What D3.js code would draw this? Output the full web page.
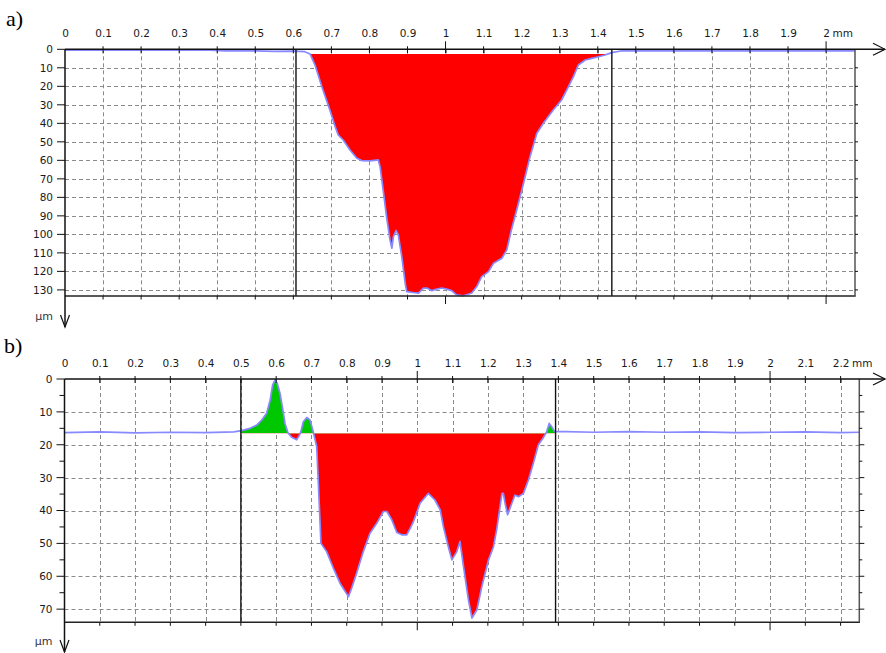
<!DOCTYPE html>
<html>
<head>
<meta charset="utf-8">
<script src="https://cdn.jsdelivr.net/npm/d3@7"></script>
<style>
  body { margin: 0; background: #fff; }
  svg { display: block; }
  .tick-label { font-family: "DejaVu Sans", Verdana, sans-serif; font-size: 10.5px; fill: #1a1a1a; }
  .panel-label { font-family: "Liberation Serif", "Times New Roman", serif; font-size: 22px; fill: #000; }
</style>
</head>
<body>
<svg id="chart" width="886" height="653"></svg>
<script>
// ---------- Panel a: depth profile (mm along track, µm depth) ----------
const distTicksA = [0, 0.1, 0.2, 0.3, 0.4, 0.5, 0.6, 0.7, 0.8, 0.9, 1, 1.1, 1.2, 1.3, 1.4, 1.5, 1.6, 1.7, 1.8, 1.9, 2];
const distLabelsA = ["0", "0.1", "0.2", "0.3", "0.4", "0.5", "0.6", "0.7", "0.8", "0.9", "1", "1.1", "1.2", "1.3", "1.4", "1.5", "1.6", "1.7", "1.8", "1.9", "2"];
const depthTicksA = [0, 10, 20, 30, 40, 50, 60, 70, 80, 90, 100, 110, 120, 130];
const depthMinorA = [];
const profileA = [
  [0, 0.4], [0.1, 0.4], [0.2, 0.4], [0.3, 0.5], [0.38, 0.5], [0.42, 0.9], [0.46, 0.7], [0.5, 0.9],
  [0.55, 1.1], [0.6, 1.0], [0.63, 1.3], [0.644, 2.5], [0.657, 8.5], [0.675, 20.2], [0.696, 32.8],
  [0.71, 41.8], [0.718, 46.3], [0.731, 49], [0.749, 54.4], [0.767, 58.9], [0.78, 60.1], [0.802, 60.3],
  [0.823, 59.7], [0.828, 63.4], [0.836, 76], [0.845, 90.4], [0.854, 103], [0.859, 107.5], [0.863, 101.2],
  [0.87, 97.9], [0.876, 100.4], [0.885, 112], [0.894, 126.4], [0.898, 130.9], [0.915, 131.4], [0.929, 131.7],
  [0.942, 129], [0.951, 129], [0.964, 130.4], [0.977, 129.6], [0.99, 129], [1.003, 129.6], [1.016, 130.4],
  [1.029, 132.7], [1.047, 133.2], [1.069, 131.7], [1.082, 128.2], [1.095, 122.8], [1.113, 120.1],
  [1.126, 115.6], [1.148, 112.9], [1.161, 108.4], [1.173, 97.6], [1.187, 86.8], [1.205, 72.4], [1.222, 58],
  [1.24, 45.4], [1.257, 40], [1.283, 32.8], [1.305, 27.4], [1.323, 20.2], [1.336, 14.8], [1.349, 8.5],
  [1.367, 5.8], [1.384, 4.9], [1.402, 4], [1.419, 3.1], [1.437, 1.8], [1.46, 0.9], [1.5, 0.8], [1.6, 0.9],
  [1.7, 0.8], [1.8, 0.9], [1.9, 0.8], [2.0, 0.8], [2.076, 0.8]
];
const referenceA = 2.5;
const selectionA = [0.607, 1.437];

// ---------- Panel b ----------
const distTicksB = [0, 0.1, 0.2, 0.3, 0.4, 0.5, 0.6, 0.7, 0.8, 0.9, 1, 1.1, 1.2, 1.3, 1.4, 1.5, 1.6, 1.7, 1.8, 1.9, 2, 2.1, 2.2];
const distLabelsB = ["0", "0.1", "0.2", "0.3", "0.4", "0.5", "0.6", "0.7", "0.8", "0.9", "1", "1.1", "1.2", "1.3", "1.4", "1.5", "1.6", "1.7", "1.8", "1.9", "2", "2.1", "2.2"];
const depthTicksB = [0, 10, 20, 30, 40, 50, 60, 70];
const depthMinorB = [5, 15, 25, 35, 45, 55, 65];
const profileB = [
  [0, 16.3], [0.1, 16.1], [0.2, 16.4], [0.3, 16.2], [0.4, 16.3], [0.48, 16.1], [0.502, 15.7], [0.526, 15],
  [0.545, 14], [0.559, 12.5], [0.573, 10.4], [0.583, 6.4], [0.59, 1.8], [0.597, 0.3], [0.603, 1.3],
  [0.611, 4.4], [0.619, 9.4], [0.625, 13.5], [0.633, 16.3], [0.644, 17.7], [0.658, 18.5], [0.665, 17.3],
  [0.67, 16.0], [0.677, 13], [0.687, 11.7], [0.696, 12.5], [0.705, 16], [0.715, 20.6], [0.72, 32.7],
  [0.727, 50], [0.743, 52.5], [0.762, 57.5], [0.781, 62.1], [0.805, 66.2], [0.814, 63.6], [0.828, 59.1],
  [0.847, 52.5], [0.866, 46.9], [0.885, 43.9], [0.904, 40.3], [0.914, 40.3], [0.928, 42.9], [0.942, 46.7],
  [0.956, 47.4], [0.97, 47.4], [0.98, 45.4], [0.989, 43.4], [1.008, 37.8], [1.031, 34.8], [1.05, 36.8],
  [1.065, 39.8], [1.074, 44.9], [1.088, 51], [1.098, 55], [1.112, 52.5], [1.121, 49.4], [1.131, 57],
  [1.145, 67.2], [1.155, 72.7], [1.169, 70.2], [1.183, 63.1], [1.202, 55], [1.216, 51], [1.225, 45.9],
  [1.24, 34.8], [1.244, 34.8], [1.249, 37.8], [1.256, 41.3], [1.268, 37.8], [1.277, 35.3], [1.287, 35.8],
  [1.301, 34.8], [1.315, 30.7], [1.329, 25.6], [1.343, 20.1], [1.358, 17.7], [1.367, 16.0], [1.374, 13.5],
  [1.381, 14.5], [1.389, 16.0], [1.42, 16.0], [1.5, 16.2], [1.6, 16.0], [1.7, 16.2], [1.8, 16.1],
  [1.9, 16.3], [2.0, 16.2], [2.1, 16.1], [2.2, 16.3], [2.253, 16.2]
];
const referenceB = 16.5;
const selectionB = [0.5, 1.392];

const svg = d3.select("#chart");

function drawPanel(p) {
  const x = d3.scaleLinear().domain(p.xDomain).range(p.xRange);
  const y = d3.scaleLinear().domain(p.yDomain).range(p.yRange);
  const [x0, x1] = p.xRange;
  const [y0, y1] = p.yRange;
  const g = svg.append("g");

  // panel letter
  g.append("text").attr("class", "panel-label").attr("x", p.letterPos[0]).attr("y", p.letterPos[1]).text(p.letter);

  // dashed grid
  const grid = g.append("g").attr("stroke", "#8a8a8a").attr("stroke-width", 1).attr("stroke-dasharray", "4,3");
  grid.selectAll("line.v").data(p.distTicks.filter(d => d > 0)).join("line")
    .attr("x1", d => Math.round(x(d)) + 0.5).attr("x2", d => Math.round(x(d)) + 0.5)
    .attr("y1", y0).attr("y2", y1);
  grid.selectAll("line.h").data(p.depthTicks.filter(d => d > 0)).join("line")
    .attr("class", "h")
    .attr("x1", x0).attr("x2", x1)
    .attr("y1", d => Math.round(y(d)) + 0.5).attr("y2", d => Math.round(y(d)) + 0.5);

  // filled material loss (red) and build-up (green) inside the measured window
  const sx0 = x(p.selection[0]), sx1 = x(p.selection[1]);
  const ref = y(p.reference);
  const defs = svg.append("defs");
  defs.append("clipPath").attr("id", p.id + "-below")
    .append("rect").attr("x", sx0).attr("y", ref).attr("width", sx1 - sx0).attr("height", y1 - ref + 2);
  defs.append("clipPath").attr("id", p.id + "-above")
    .append("rect").attr("x", sx0).attr("y", y0 - 5).attr("width", sx1 - sx0).attr("height", ref - y0 + 5);

  const area = d3.area().x(d => x(d[0])).y0(ref).y1(d => y(d[1]));
  g.append("path").datum(p.profile).attr("d", area).attr("fill", "#ff0000")
    .attr("clip-path", `url(#${p.id}-below)`);
  if (p.buildUp) {
    g.append("path").datum(p.profile).attr("d", area).attr("fill", "#00c800")
      .attr("clip-path", `url(#${p.id}-above)`);
  }

  // profile line
  const line = d3.line().x(d => x(d[0])).y(d => y(d[1]));
  g.append("path").datum(p.profile).attr("d", line)
    .attr("fill", "none").attr("stroke", "#8888ff").attr("stroke-width", 1.7).attr("stroke-linejoin", "round");

  // window markers
  g.selectAll("line.sel").data(p.selection).join("line")
    .attr("x1", d => x(d)).attr("x2", d => x(d)).attr("y1", y0).attr("y2", y1)
    .attr("stroke", "#111").attr("stroke-width", 1.4);

  // frame: bottom and right edges
  g.append("line").attr("x1", x0).attr("x2", x1 + 0.7).attr("y1", y1).attr("y2", y1)
    .attr("stroke", "#222").attr("stroke-width", 1.5);
  g.append("line").attr("x1", x1).attr("x2", x1).attr("y1", y0).attr("y2", y1)
    .attr("stroke", "#555").attr("stroke-width", 1.5);

  // top distance axis with labels
  const axTop = d3.axisTop(x).tickValues(p.distTicks).tickSize(0).tickPadding(p.labelPad)
    .tickFormat((d, i) => p.distLabels[i]);
  const topAxis = g.append("g").attr("transform", `translate(0,${y0})`).call(axTop);
  topAxis.select(".domain").remove();
  topAxis.selectAll("text").attr("class", "tick-label").attr("font-family", null).attr("font-size", null).attr("fill", null);
  // unit after the last label
  const lastText = topAxis.selectAll(".tick text").filter((d, i) => i === p.distTicks.length - 1);
  const lastW = lastText.node().getComputedTextLength();
  const lastVal = p.distTicks[p.distTicks.length - 1];
  g.append("text").attr("class", "tick-label")
    .attr("x", x(lastVal) + lastW / 2 + 3).attr("y", y0 - p.labelPad).attr("dy", "0em")
    .text("mm");

  const ax = g.append("g").attr("stroke", "#111").attr("fill", "none");
  ax.append("line").attr("x1", x0).attr("x2", 885).attr("y1", y0).attr("y2", y0).attr("stroke-width", 1.5);
  ax.append("path").attr("d", `M873,${y0 - 6}L885,${y0}L873,${y0 + 6}`).attr("stroke-width", 1.2);
  ax.selectAll("line.tt").data(p.distTicks.filter(d => d > 0)).join("line")
    .attr("x1", d => x(d)).attr("x2", d => x(d))
    .attr("y1", d => Number.isInteger(d) ? y0 - 8 : y0 - 3).attr("y2", y0 + 4);
  ax.selectAll("line.bt").data(p.distTicks.filter(d => d > 0)).join("line")
    .attr("x1", d => x(d)).attr("x2", d => x(d))
    .attr("y1", y1).attr("y2", d => Number.isInteger(d) ? y1 + 8 : y1 + 3.5);

  // left depth axis
  const axLeft = d3.axisLeft(y).tickValues(p.depthTicks).tickSize(0).tickPadding(p.depthPad).tickFormat(d3.format("d"));
  const leftAxis = g.append("g").attr("transform", `translate(${x0},0)`).call(axLeft);
  leftAxis.select(".domain").remove();
  leftAxis.selectAll("text").attr("class", "tick-label").attr("font-family", null).attr("font-size", null).attr("fill", null);

  ax.append("line").attr("x1", x0).attr("x2", x0).attr("y1", y0).attr("y2", p.arrowTip).attr("stroke-width", 1.5);
  ax.append("path").attr("d", `M${x0 - 4.5},${p.arrowTip - 12}L${x0},${p.arrowTip}L${x0 + 4.5},${p.arrowTip - 12}`).attr("stroke-width", 1.2);
  ax.selectAll("line.lt").data(p.depthTicks).join("line")
    .attr("x1", x0 - 8).attr("x2", x0).attr("y1", d => y(d)).attr("y2", d => y(d));
  ax.selectAll("line.lm").data(p.depthMinor).join("line")
    .attr("x1", x0 - 5).attr("x2", x0).attr("y1", d => y(d)).attr("y2", d => y(d));
  ax.selectAll("line.rt").data(p.depthTicks.filter(d => d > 0)).join("line")
    .attr("x1", x1).attr("x2", x1 + p.rightTick).attr("y1", d => y(d)).attr("y2", d => y(d));
  ax.selectAll("line.rm").data(p.depthMinor).join("line")
    .attr("x1", x1).attr("x2", x1 + 3).attr("y1", d => y(d)).attr("y2", d => y(d));

  g.append("text").attr("class", "tick-label").attr("x", x0 - 12).attr("y", p.arrowTip - 7)
    .attr("text-anchor", "end").style("font-size", "11px").style("fill", "#334").text("µm");
}

drawPanel({
  id: "pa", letter: "a)", letterPos: [6, 26], buildUp: false,
  xDomain: [0, 2.076], xRange: [65, 855],
  yDomain: [0, 133.3], yRange: [49.3, 296],
  distTicks: distTicksA, distLabels: distLabelsA,
  depthTicks: depthTicksA, depthMinor: depthMinorA,
  profile: profileA, reference: referenceA, selection: selectionA,
  labelPad: 12, depthPad: 12, arrowTip: 327, rightTick: 3
});

drawPanel({
  id: "pb", letter: "b)", letterPos: [4, 353], buildUp: true,
  xDomain: [0, 2.253], xRange: [64.5, 859.3],
  yDomain: [0, 74], yRange: [379, 622.3],
  distTicks: distTicksB, distLabels: distLabelsB,
  depthTicks: depthTicksB, depthMinor: depthMinorB,
  profile: profileB, reference: referenceB, selection: selectionB,
  labelPad: 12, depthPad: 12, arrowTip: 652, rightTick: 5
});
</script>
</body>
</html>
